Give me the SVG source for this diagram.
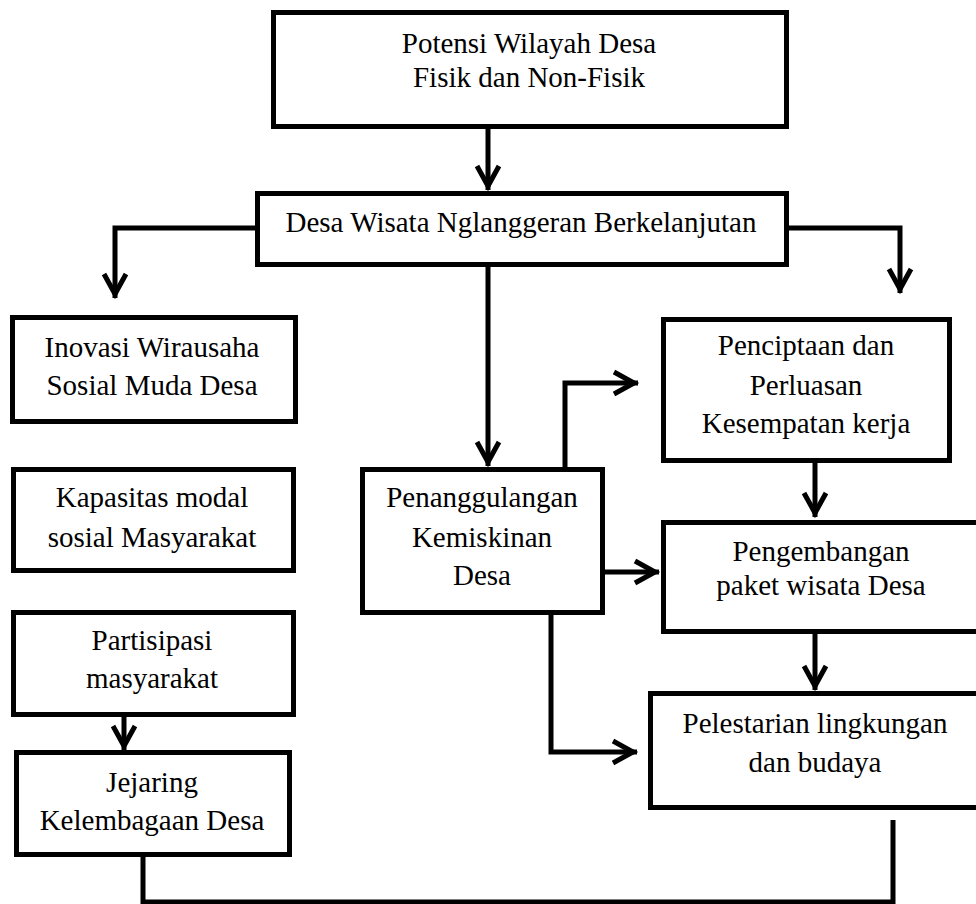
<svg xmlns="http://www.w3.org/2000/svg" width="976" height="904" viewBox="0 0 976 904">
<style>
.box{fill:#fff;stroke:#000;stroke-width:5}
.t{font-family:"Liberation Serif","Times New Roman",serif;font-size:29px;fill:#000;text-anchor:middle}
.c{fill:none;stroke:#000;stroke-width:5;stroke-linejoin:miter}
</style>
<defs>
<marker id="arr" markerUnits="userSpaceOnUse" markerWidth="40" markerHeight="40" viewBox="-30 -20 40 40" refX="0" refY="0" orient="auto" overflow="visible">
<path d="M-24,-11 L-4,0 L-24,11" fill="none" stroke="#000" stroke-width="5"/>
</marker>
</defs>
<rect width="976" height="904" fill="#fff"/>
<g id="connectors">
<path class="c" d="M488,129 V190" marker-end="url(#arr)"/>
<path class="c" d="M257,228 H115 V298" marker-end="url(#arr)"/>
<path class="c" d="M789,228 H900 V293" marker-end="url(#arr)"/>
<path class="c" d="M488,267 V466" marker-end="url(#arr)"/>
<path class="c" d="M565,467 V383 H638" marker-end="url(#arr)"/>
<path class="c" d="M815,463 V517" marker-end="url(#arr)"/>
<path class="c" d="M605,572 H659" marker-end="url(#arr)"/>
<path class="c" d="M551,615 V752 H637" marker-end="url(#arr)"/>
<path class="c" d="M815,634 V690" marker-end="url(#arr)"/>
<path class="c" d="M124,717 V750" marker-end="url(#arr)"/>
<path class="c" d="M143,857 V902 H893 V820"/>
</g>
<g id="potensi">
<rect class="box" x="273.5" y="12.5" width="513" height="114"/>
<text class="t" x="529" y="53">Potensi Wilayah Desa</text>
<text class="t" x="529" y="87">Fisik dan Non-Fisik</text>
</g>
<g id="desa-wisata">
<rect class="box" x="257.5" y="193.5" width="529" height="71"/>
<text class="t" x="521" y="232">Desa Wisata Nglanggeran Berkelanjutan</text>
</g>
<g id="inovasi">
<rect class="box" x="12.5" y="317.5" width="283" height="104"/>
<text class="t" x="152" y="357">Inovasi Wirausaha</text>
<text class="t" x="152" y="395">Sosial Muda Desa</text>
</g>
<g id="kapasitas">
<rect class="box" x="13.5" y="469.5" width="280" height="101"/>
<text class="t" x="152" y="507">Kapasitas modal</text>
<text class="t" x="152" y="547">sosial Masyarakat</text>
</g>
<g id="partisipasi">
<rect class="box" x="13.5" y="612.5" width="280" height="102"/>
<text class="t" x="152" y="650">Partisipasi</text>
<text class="t" x="152" y="688">masyarakat</text>
</g>
<g id="jejaring">
<rect class="box" x="16.5" y="752.5" width="273" height="102"/>
<text class="t" x="152" y="792">Jejaring</text>
<text class="t" x="152" y="830">Kelembagaan Desa</text>
</g>
<g id="penanggulangan">
<rect class="box" x="362.5" y="469.5" width="240" height="143"/>
<text class="t" x="482" y="507">Penanggulangan</text>
<text class="t" x="482" y="547">Kemiskinan</text>
<text class="t" x="482" y="585">Desa</text>
</g>
<g id="penciptaan">
<rect class="box" x="663.5" y="319.5" width="286" height="141"/>
<text class="t" x="806" y="355">Penciptaan dan</text>
<text class="t" x="806" y="395">Perluasan</text>
<text class="t" x="806" y="433">Kesempatan kerja</text>
</g>
<g id="pengembangan">
<rect class="box" x="663.5" y="522.5" width="330" height="109"/>
<text class="t" x="821" y="561">Pengembangan</text>
<text class="t" x="821" y="595">paket wisata Desa</text>
</g>
<g id="pelestarian">
<rect class="box" x="650.5" y="693.5" width="340" height="114"/>
<text class="t" x="815" y="733">Pelestarian lingkungan</text>
<text class="t" x="815" y="772">dan budaya</text>
</g>
</svg>
